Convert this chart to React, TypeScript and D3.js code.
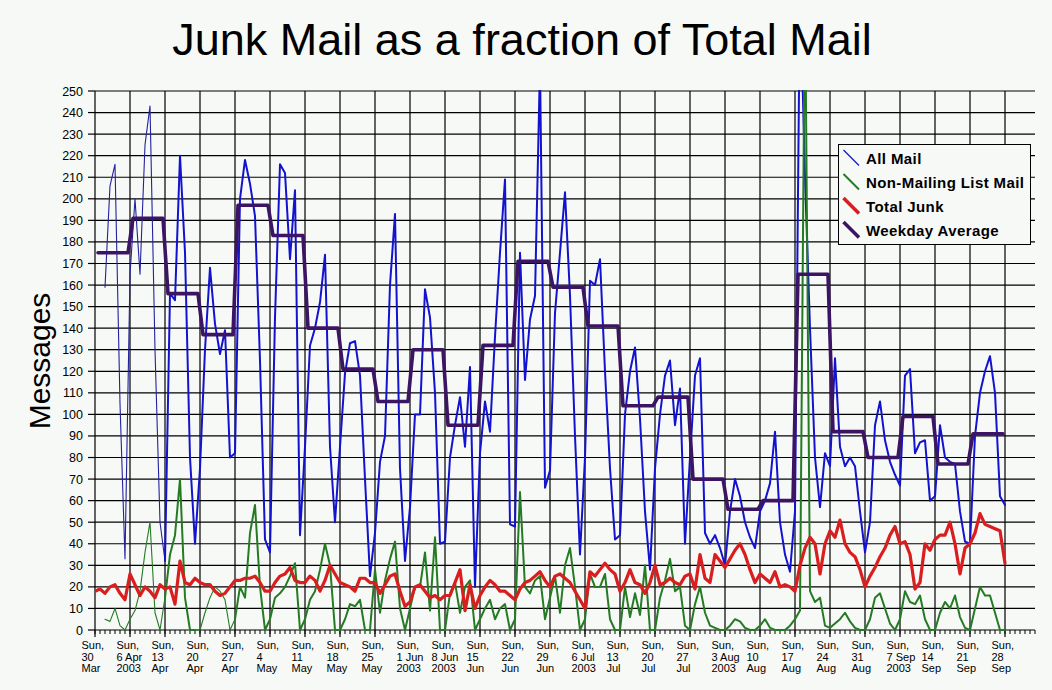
import React from 'react';
import * as d3 from 'd3';

// Daily values, day 0 = Sun 30 Mar 2003
const allMail: (number | null)[] = [
  null, null, 159, 206, 216, 105, 33, 165, 200, 165,
  225, 243, 130, 50, 32, 156, 153, 220, 175, 80,
  40, 75, 130, 168, 142, 128, 139, 80, 82, 200,
  218, 207, 192, 125, 42, 36, 145, 216, 212, 172,
  204, 44, 85, 132, 140, 152, 174, 85, 50, 85,
  119, 133, 134, 118, 70, 25, 45, 78, 90, 160,
  193, 75, 32, 57, 100, 100, 158, 145, 110, 40,
  41, 80, 95, 108, 85, 122, 20, 82, 106, 92,
  136, 175, 209, 49, 48, 175, 116, 144, 155, 262,
  66, 74, 147, 175, 203, 155, 90, 35, 80, 162,
  160, 172, 120, 75, 42, 44, 100, 120, 131, 98,
  55, 28, 75, 100, 118, 125, 95, 112, 40, 80,
  118, 126, 45, 40, 44, 38, 30, 55, 70, 62,
  50, 43, 38, 55, 60, 68, 92, 50, 35, 27,
  55, 300, 210, 140, 80, 57, 82, 76, 126, 85,
  76, 80, 76, 55, 36, 50, 95, 106, 88, 78,
  72, 67, 118, 121, 82, 87, 88, 60, 62, 95,
  80, 78, 77, 55, 41, 40, 90, 110, 120, 127,
  110, 62, 58,
];

const nonMailingListMail: (number | null)[] = [
  null, null, 5, 4, 10, 2, 0, 5, 9, 18,
  36, 50, 8, 0, 15, 35, 44, 70, 15, 0,
  0, 0, 8, 15, 20, 18, 14, 0, 5, 20,
  15, 45, 58, 20, 0, 5, 15, 17, 20, 25,
  31, 0, 5, 14, 18, 28, 40, 30, 0, 0,
  5, 12, 11, 14, 0, 0, 28, 8, 23, 33,
  41, 10, 0, 10, 20, 20, 36, 9, 43, 0,
  0, 17, 22, 8, 20, 23, 0, 5, 10, 14,
  5, 10, 12, 0, 5, 64, 20, 17, 23, 25,
  5, 15, 25, 8, 30, 38, 20, 0, 5, 26,
  20, 20, 26, 5, 0, 0, 20, 6, 17, 7,
  30, 0, 0, 15, 23, 33, 18, 20, 2, 0,
  12, 20, 8, 2, 1, 0, 0, 2, 5, 4,
  1, 0, 0, 2, 5, 1, 0, 0, 0, 2,
  5, 9, 300, 18, 13, 15, 2, 1, 3, 5,
  8, 4, 1, 0, 0, 5, 15, 17, 10, 3,
  0, 5, 18, 13, 12, 16, 5, 0, 0, 8,
  13, 10, 16, 6, 1, 0, 10, 20, 16, 16,
  8, 0, 0,
];

const totalJunk: number[] = [
  18, 19, 17, 20, 21, 17, 14, 26, 21, 16,
  20, 18, 15, 21, 19, 20, 12, 32, 22, 21,
  24, 22, 21, 21, 18, 16, 17, 20, 23, 23,
  24, 24, 25, 22, 18, 18, 22, 25, 26, 29,
  23, 22, 22, 25, 23, 18, 23, 30, 26, 22,
  21, 20, 18, 24, 24, 22, 22, 17, 21, 25,
  26, 18, 11, 13, 20, 21, 18, 15, 16, 14,
  16, 16, 22, 28, 9, 21, 10, 16, 20, 23,
  21, 18, 18, 16, 14, 19, 22, 23, 25, 27,
  23, 20, 25, 26, 24, 22, 18, 14, 10, 27,
  25, 28, 31, 28, 26, 18, 22, 28, 22, 21,
  17, 22, 30, 21, 22, 24, 22, 21, 25, 26,
  19, 35, 24, 22, 35, 32, 29, 33, 37, 40,
  35, 28, 22, 26, 24, 22, 27, 20, 21, 20,
  18, 30, 38, 43, 40, 26, 40, 46, 43, 51,
  40, 36, 34, 28, 20, 25, 29, 34, 38, 44,
  48, 40, 41, 35, 19, 22, 40, 37, 42, 44,
  44, 50, 40, 26, 38, 40, 45, 54, 49, 48,
  47, 46, 31,
];

// One value per week (Sunday to Saturday)
const weekdayAverage: number[] = [
  175, 191, 156, 137, 197, 183, 140, 121, 106, 130,
  95, 132, 171, 159, 141, 104, 108, 70, 56, 60,
  165, 92, 80, 99, 77, 91,
];

const tickLine1: string[] = Array(27).fill('Sun,');
const tickLine2: string[] = [
  '30', '6 Apr', '13', '20', '27', '4', '11', '18', '25', '1 Jun',
  '8 Jun', '15', '22', '29', '6 Jul', '13', '20', '27', '3 Aug', '10',
  '17', '24', '31', '7 Sep', '14', '21', '28',
];
const tickLine3: string[] = [
  'Mar', '2003', 'Apr', 'Apr', 'Apr', 'May', 'May', 'May', 'May', '2003',
  '2003', 'Jun', 'Jun', 'Jun', '2003', 'Jul', 'Jul', 'Jul', '2003', 'Aug',
  'Aug', 'Aug', 'Aug', '2003', 'Sep', 'Sep', 'Sep',
];
const yTickValues: number[] = d3.range(0, 251, 10);
const legendLabels: string[] = ['All Mail', 'Non-Mailing List Mail', 'Total Junk', 'Weekday Average'];

const W = 1052;
const H = 690;
const FONT = '"Liberation Sans", Arial, Helvetica, sans-serif';
const BG = '#f7f9f6';

const BLUE = '#1313cf';
const BLUE_THIN = '#22229e';
const GREEN = '#247b24';
const RED = '#d81e1e';
const PURPLE = '#3c1464';

export default function App() {
  const x = d3.scaleLinear().domain([0, 188]).range([95, 1035]);
  const y = d3.scaleLinear().domain([0, 250]).range([630, 91]);
  const top = y(250);
  const bottom = y(0);
  const left = x(0);
  const right = x(188);

  type P = [number, number | null];
  const line = d3
    .line<P>()
    .defined((d) => d[1] != null)
    .x((d) => x(d[0]))
    .y((d) => y(d[1] as number));

  const pts = (arr: (number | null)[]): P[] => arr.map((v, i) => [i, v]);
  const seg = (arr: (number | null)[], a: number, b: number) =>
    line(pts(arr).slice(a, b + 1)) || '';

  const weekPts: P[] = weekdayAverage.flatMap((v, k) => [
    [7 * k + 0.6, v] as P,
    [7 * k + 6.6, v] as P,
  ]);

  const weeks = d3.range(0, 27);
  const days = d3.range(0, 189);

  const blueSegs: [number, number, number, string][] = [
    [2, 14, 1.1, BLUE_THIN],
    [14, 182, 2, BLUE],
  ];
  const greenSegs: [number, number, number][] = [
    [2, 14, 1.1],
    [14, 20, 2],
    [20, 28, 1.1],
    [28, 182, 2],
  ];

  const legendColors = [BLUE, GREEN, RED, PURPLE];
  const legendWidths = [1.2, 2, 3.5, 3.5];

  return (
    <svg
      width={W}
      height={H}
      style={{ position: 'absolute', left: 0, top: 0, display: 'block' }}
      fontFamily={FONT}
    >
      <defs>
        <clipPath id="plotClip">
          <rect x={left} y={top - 1} width={right - left} height={bottom - top + 2} />
        </clipPath>
      </defs>
      <rect x={0} y={0} width={W} height={H} fill={BG} />

      <text x={522} y={55} textAnchor="middle" fontSize={45} fill="#000">
        Junk Mail as a fraction of Total Mail
      </text>

      <text
        transform={`translate(50, 361) rotate(-90)`}
        textAnchor="middle"
        fontSize={30}
        fill="#000"
      >
        Messages
      </text>

      {/* horizontal grid */}
      {yTickValues.map((v) => (
        <g key={'h' + v}>
          <line x1={left} x2={right} y1={y(v)} y2={y(v)} stroke="#000" strokeWidth={1.2} />
          <line x1={left - 7} x2={left} y1={y(v)} y2={y(v)} stroke="#000" strokeWidth={1.2} />
          <text x={83} y={y(v) + 4.5} textAnchor="end" fontSize={12.5} fill="#000">
            {v}
          </text>
        </g>
      ))}

      {/* vertical week grid */}
      {weeks.map((k) => (
        <line
          key={'v' + k}
          x1={x(7 * k)}
          x2={x(7 * k)}
          y1={top}
          y2={bottom + 7}
          stroke="#000"
          strokeWidth={1.2}
        />
      ))}

      {/* daily minor ticks */}
      {days.map((d) => (
        <line key={'t' + d} x1={x(d)} x2={x(d)} y1={bottom} y2={bottom + 4} stroke="#000" strokeWidth={1} />
      ))}

      {/* x labels */}
      {weeks.map((k) => {
        const lx = x(7 * k) - 13.5;
        return (
          <text key={'l' + k} fontSize={11} fill="#000">
            <tspan x={lx} y={649}>{tickLine1[k]}</tspan>
            <tspan x={lx} y={660.5}>{tickLine2[k]}</tspan>
            <tspan x={lx} y={672}>{tickLine3[k]}</tspan>
          </text>
        );
      })}

      <g clipPath="url(#plotClip)" fill="none" strokeLinejoin="round" strokeLinecap="round">
        {blueSegs.map(([a, b, w, c], i) => (
          <path key={'b' + i} d={seg(allMail, a, b)} stroke={c} strokeWidth={w} />
        ))}
        {greenSegs.map(([a, b, w], i) => (
          <path key={'g' + i} d={seg(nonMailingListMail, a, b)} stroke={GREEN} strokeWidth={w} />
        ))}
        <path d={line(pts(totalJunk)) || ''} stroke={RED} strokeWidth={3.2} />
        <path d={line(weekPts) || ''} stroke={PURPLE} strokeWidth={3.6} />
      </g>

      {/* legend */}
      <g>
        <rect x={838.5} y={144.5} width={192} height={100} fill={BG} stroke="#000" strokeWidth={1} />
        {legendLabels.map((lab, i) => (
          <g key={lab}>
            <line
              x1={843.5}
              y1={150 + 24 * i}
              x2={859}
              y2={165.5 + 24 * i}
              stroke={legendColors[i]}
              strokeWidth={legendWidths[i]}
            />
            <text x={866} y={164 + 24 * i} fontSize={15} fontWeight="bold" letterSpacing={0.4} fill="#000">
              {lab}
            </text>
          </g>
        ))}
      </g>
    </svg>
  );
}
